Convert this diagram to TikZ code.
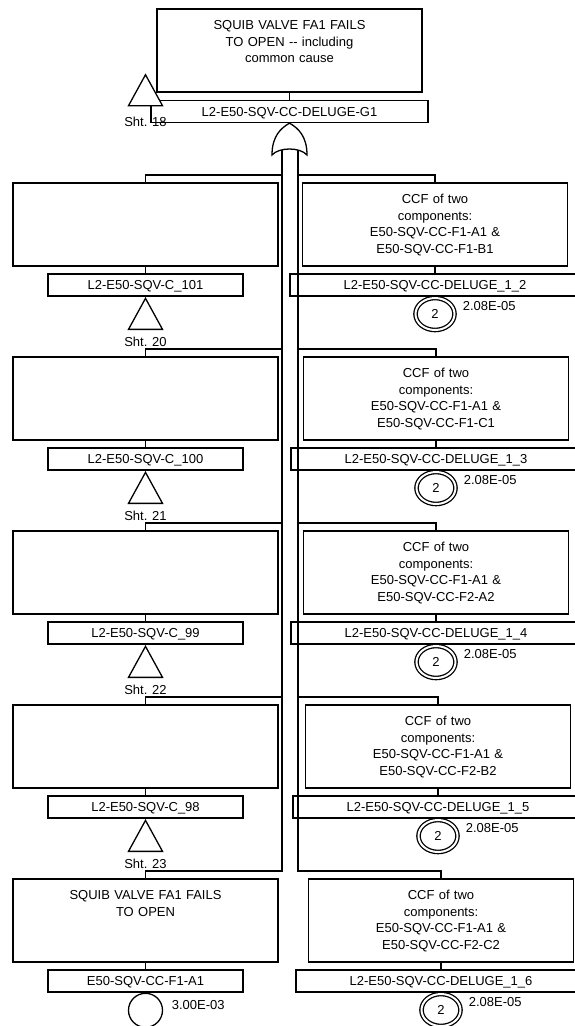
\documentclass[tikz,border=0pt]{standalone}
\usepackage{fontspec}
\setmainfont{Liberation Sans}
\usetikzlibrary{shapes.geometric,positioning}

\begin{document}
\begin{tikzpicture}[x=1pt,y=-1pt,line width=1.3pt,font=\fontsize{13}{16.5}\selectfont,
  evbox/.style={rectangle,draw,minimum width=265pt,text width=255pt,align=center,inner xsep=0pt,inner ysep=0pt,text height=20.7pt,text depth=62.3pt},
  idbox/.style={rectangle,draw,minimum width=#1,minimum height=22pt,inner sep=0pt,text height=9.4pt,text depth=0pt},
  xfer/.style={isosceles triangle,shape border rotate=90,isosceles triangle stretches,draw,fill=white,minimum width=34pt,minimum height=31pt,inner sep=0pt,anchor=apex},
  sheet/.style={inner sep=0pt,text height=9.4pt,text depth=0pt},
  basic/.style={circle,draw,minimum size=34pt,inner sep=0pt,anchor=north},
  ccf/.style={ellipse,draw,double,double distance=2pt,minimum width=39pt,minimum height=32pt,inner sep=0pt},
  prob/.style={anchor=west,inner sep=0pt,text height=9.4pt,text depth=0pt}]
  \useasboundingbox (0,0) rectangle (575,1026);

  \node[evbox] (topev) at (289.5,50.5) {SQUIB VALVE FA1 FAILS\\TO OPEN -{}- including\\common cause};
  \node[idbox=277pt] (g1) at (289.5,111.5) {L2-E50-SQV-CC-DELUGE-G1};
  \draw (topev.south) -- (g1.north);
  \node[xfer] (xf18) at (145.5,73) {};
  \node[sheet,below=10pt of xf18] (sht18) {Sht. 18};

  \coordinate (busL) at (282,150);
  \coordinate (busR) at (298,150);
  \coordinate (tapL1) at (282,175);
  \coordinate (tapL2) at (282,349);
  \coordinate (tapL3) at (282,523);
  \coordinate (tapL4) at (282,697);
  \coordinate (tapL5) at (282,871);
  \coordinate (tapR1) at (298,175);
  \coordinate (tapR2) at (298,349);
  \coordinate (tapR3) at (298,523);
  \coordinate (tapR4) at (298,697);
  \coordinate (tapR5) at (298,871);

  \node[evbox] (ev1) at (145.5,224.5) {};
  \node[idbox=195pt] (id1) at (145.5,285) {L2-E50-SQV-C\_101};
  \node[xfer] (xf1) at (id1.south) {};
  \node[sheet,below=6pt of xf1] (sht1) {Sht. 20};
  \node[evbox] (ev2) at (145.5,398.5) {};
  \node[idbox=195pt] (id2) at (145.5,459) {L2-E50-SQV-C\_100};
  \node[xfer] (xf2) at (id2.south) {};
  \node[sheet,below=6pt of xf2] (sht2) {Sht. 21};
  \node[evbox] (ev3) at (145.5,572.5) {};
  \node[idbox=195pt] (id3) at (145.5,633) {L2-E50-SQV-C\_99};
  \node[xfer] (xf3) at (id3.south) {};
  \node[sheet,below=6pt of xf3] (sht3) {Sht. 22};
  \node[evbox] (ev4) at (145.5,746.5) {};
  \node[idbox=195pt] (id4) at (145.5,807) {L2-E50-SQV-C\_98};
  \node[xfer] (xf4) at (id4.south) {};
  \node[sheet,below=6pt of xf4] (sht4) {Sht. 23};
  \node[evbox] (ev5) at (145.5,920.5) {SQUIB VALVE FA1 FAILS\\TO OPEN};
  \node[idbox=195pt] (id5) at (145.5,981) {E50-SQV-CC-F1-A1};
  \node[basic] (be5) at (id5.south) {};
  \node[prob,xshift=8pt,yshift=6pt] (p5) at (be5.east) {3.00E-03};

  \node[evbox] (cf1) at (435,224.5) {CCF of two\\components:\\E50-SQV-CC-F1-A1 \&\\E50-SQV-CC-F1-B1};
  \node[idbox=290pt] (cid1) at (435,285) {L2-E50-SQV-CC-DELUGE\_1\_2};
  \node[ccf] (dc1) at (435,314) {2};
  \node[prob,xshift=7pt,yshift=8pt] (cp1) at (dc1.east) {2.08E-05};
  \node[evbox] (cf2) at (436,398.5) {CCF of two\\components:\\E50-SQV-CC-F1-A1 \&\\E50-SQV-CC-F1-C1};
  \node[idbox=290pt] (cid2) at (436,459) {L2-E50-SQV-CC-DELUGE\_1\_3};
  \node[ccf] (dc2) at (436,488) {2};
  \node[prob,xshift=7pt,yshift=8pt] (cp2) at (dc2.east) {2.08E-05};
  \node[evbox] (cf3) at (436,572.5) {CCF of two\\components:\\E50-SQV-CC-F1-A1 \&\\E50-SQV-CC-F2-A2};
  \node[idbox=290pt] (cid3) at (436,633) {L2-E50-SQV-CC-DELUGE\_1\_4};
  \node[ccf] (dc3) at (436,662) {2};
  \node[prob,xshift=7pt,yshift=8pt] (cp3) at (dc3.east) {2.08E-05};
  \node[evbox] (cf4) at (438,746.5) {CCF of two\\components:\\E50-SQV-CC-F1-A1 \&\\E50-SQV-CC-F2-B2};
  \node[idbox=290pt] (cid4) at (438,807) {L2-E50-SQV-CC-DELUGE\_1\_5};
  \node[ccf] (dc4) at (438,836) {2};
  \node[prob,xshift=7pt,yshift=8pt] (cp4) at (dc4.east) {2.08E-05};
  \node[evbox] (cf5) at (441,920.5) {CCF of two\\components:\\E50-SQV-CC-F1-A1 \&\\E50-SQV-CC-F2-C2};
  \node[idbox=290pt] (cid5) at (441,981) {L2-E50-SQV-CC-DELUGE\_1\_6};
  \node[ccf] (dc5) at (441,1010) {2};
  \node[prob,xshift=7pt,yshift=8pt] (cp5) at (dc5.east) {2.08E-05};

  \draw (busL) -- (tapL5) -| (ev5.north);
  \draw (busR) -- (tapR5) -| (cf5.north);
  \draw (tapL1) -| (ev1.north);
  \draw (tapL2) -| (ev2.north);
  \draw (tapL3) -| (ev3.north);
  \draw (tapL4) -| (ev4.north);
  \draw (tapR1) -| (cf1.north);
  \draw (tapR2) -| (cf2.north);
  \draw (tapR3) -| (cf3.north);
  \draw (tapR4) -| (cf4.north);
  \draw (ev1) -- (id1);
  \draw (ev2) -- (id2);
  \draw (ev3) -- (id3);
  \draw (ev4) -- (id4);
  \draw (ev5) -- (id5);
  \draw (cf1) -- (cid1);
  \draw (cf2) -- (cid2);
  \draw (cf3) -- (cid3);
  \draw (cf4) -- (cid4);
  \draw (cf5) -- (cid5);
  \draw[fill=white] (g1.south) .. controls (298,128) and (307,136) .. (307,155) .. controls (300,147) and (279,147) .. (272,155) .. controls (272,136) and (281,128) .. cycle;
\end{tikzpicture}
\end{document}
